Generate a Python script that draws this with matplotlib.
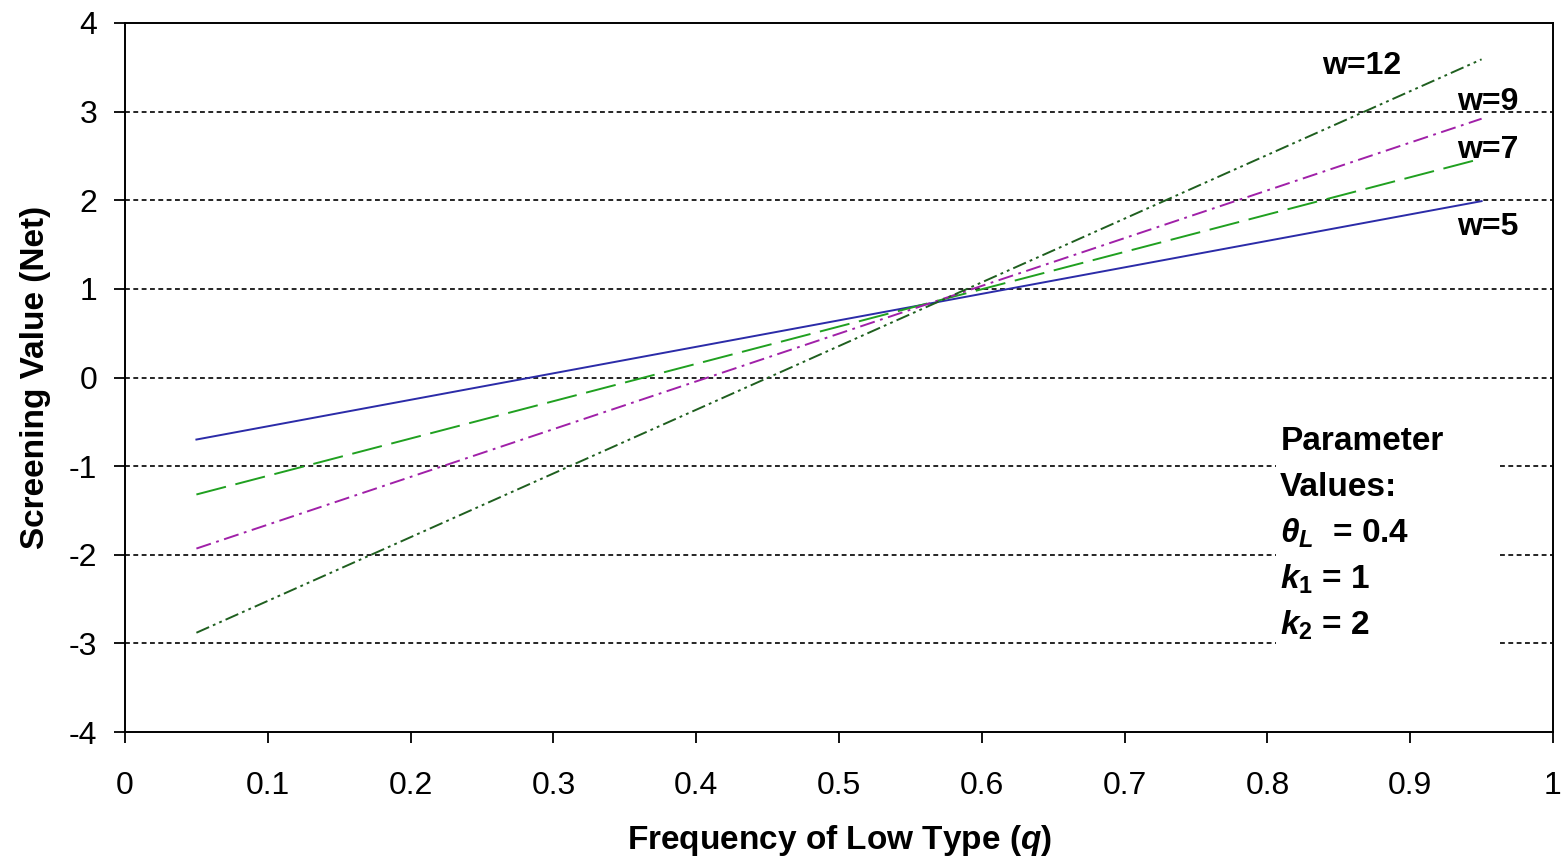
import matplotlib
matplotlib.use("Agg")
import matplotlib.pyplot as plt
from matplotlib.patches import Rectangle

plt.rcParams['font.family'] = ['Liberation Sans', 'DejaVu Sans']
plt.rcParams['mathtext.fontset'] = 'custom'
plt.rcParams['mathtext.rm'] = 'Liberation Sans:bold'
plt.rcParams['mathtext.it'] = 'Liberation Sans:italic:bold'
plt.rcParams['mathtext.bf'] = 'Liberation Sans:bold'
plt.rcParams['lines.scale_dashes'] = False
plt.rcParams['axes.unicode_minus'] = False

# data (straight lines from q=0.05 to q=0.95)
q = [0.05, 0.95]
w5 = [-0.70, 1.99]
w7 = [-1.32, 2.47]
w9 = [-1.93, 2.92]
w12 = [-2.88, 3.59]

x_ticks = [0, 0.1, 0.2, 0.3, 0.4, 0.5, 0.6, 0.7, 0.8, 0.9, 1]
x_tick_labels = ['0', '0.1', '0.2', '0.3', '0.4', '0.5', '0.6', '0.7', '0.8', '0.9', '1']
y_ticks = [-4, -3, -2, -1, 0, 1, 2, 3, 4]
param_lines = ['Parameter', 'Values:', '$\\theta_L$  = 0.4', '$k_{1}$ = 1', '$k_{2}$ = 2']

fig = plt.figure(figsize=(15.64, 8.61), dpi=100)
ax = fig.add_axes([125 / 1564, 1 - 732 / 861, (1553 - 125) / 1564, (732 - 23) / 861])

# dashed gridlines
for yv in y_ticks[1:-1]:
    ax.axhline(yv, color='black', lw=1.2, dashes=(3.5, 2.5), zorder=1)

ax.plot(q, w5, color='#2b2ba8', lw=1.4, zorder=3)
ax.plot(q, w7, color='#20a020', lw=1.4, dashes=(22, 7), zorder=3)
ax.plot(q, w9, color='#a020a8', lw=1.4, dashes=(11, 4, 2, 4), zorder=3)
ax.plot(q, w12, color='#1f5f1f', lw=1.4, dashes=(10, 3, 2, 3, 2, 3), zorder=3)

ax.set_xlim(0, 1)
ax.set_ylim(-4, 4)
ax.set_xticks(x_ticks)
ax.set_xticklabels(x_tick_labels)
ax.set_yticks(y_ticks)
ax.tick_params(direction='out', length=8, width=1.3, labelsize=23)
ax.tick_params(axis='x', pad=20)
ax.tick_params(axis='y', pad=12)
for s in ax.spines.values():
    s.set_linewidth(1.4)

ax.set_xlabel('Frequency of Low Type ($\\mathit{q}$)', fontsize=24, fontweight='bold', labelpad=16)
ax.set_ylabel('Screening Value (Net)', fontsize=24, fontweight='bold', labelpad=13)

# series labels
ax.text(0.866, 3.52, 'w=12', fontsize=23, fontweight='bold', ha='center', va='center')
ax.text(0.954, 3.11, 'w=9', fontsize=23, fontweight='bold', ha='center', va='center')
ax.text(0.954, 2.57, 'w=7', fontsize=23, fontweight='bold', ha='center', va='center')
ax.text(0.954, 1.70, 'w=5', fontsize=23, fontweight='bold', ha='center', va='center')

# white box behind the parameter text hides the gridlines there
ax.add_patch(Rectangle((0.806, -3.2), 0.157, 2.65, facecolor='white', edgecolor='none', zorder=2))
y_line = -0.72
for line in param_lines:
    ax.text(0.809, y_line, line, fontsize=24, fontweight='bold', ha='left', va='center', zorder=4)
    y_line -= 0.52

fig.savefig('out.png', dpi=100)
